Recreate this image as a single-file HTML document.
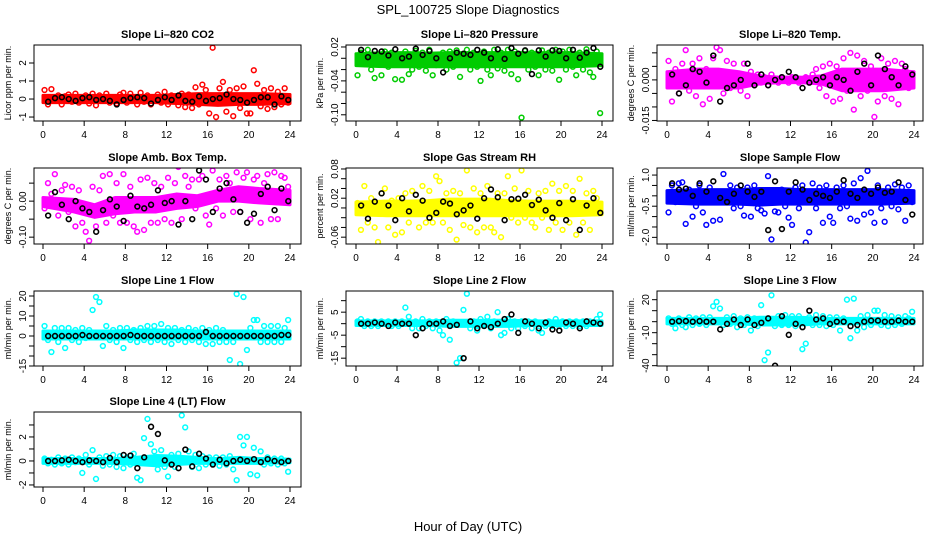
<!DOCTYPE html>
<html><head><meta charset="utf-8"><style>
html,body{margin:0;padding:0;background:#fff;}
svg{display:block;font-family:"Liberation Sans",sans-serif;}
</style></head><body>
<svg id="chart" width="936" height="540" viewBox="0 0 936 540" xmlns="http://www.w3.org/2000/svg">
<text x="468" y="14" text-anchor="middle" font-size="13">SPL_100725  Slope Diagnostics</text>
<text x="468" y="531" text-anchor="middle" font-size="13">Hour of Day (UTC)</text>
</svg>
<script>
const xTicks = [0,4,8,12,16,20,24];
const co2Color = [0.5,-0.3,0.55,-0.1,0.2,-0.3,0.15,0.25,-0.15,0.3,-0.2,0.1,0.2,-0.25,0.3,-0.35,0.2,-0.1,0.3,-0.2,0.1,-0.25,0.25,0.35,-0.2,0.3,0.1,-0.3,0.35,-0.15,0.2,-0.3,0.1,0.25,-0.2,0.4,-0.3,0.2,0.1,-0.35,0.3,-0.45,0.25,-0.5,0.65,-0.3,0.8,0.5,-0.8,2.85,-1.0,0.6,0.95,-0.7,0.5,-0.95,0.6,-0.5,0.7,-0.8,-0.8,1.6,0.85,-0.4,0.5,-0.55,0.6,-0.45,0.4,-0.3,0.6,-0.2];
const co2Black = [-0.15,0.05,0.1,0,-0.1,0.05,0.1,-0.05,0,-0.1,-0.3,-0.05,0.05,0.1,0.05,-0.25,-0.05,0.1,-0.05,0.2,-0.1,-0.15,0.15,-0.1,0,0.05,0.25,0,-0.05,-0.2,-0.05,0.1,0.1,-0.3,0.15,-0.05];
const co2BandHi = [0.2,0.2,0.2,0.2,0.2,0.2,0.25,0.3,0.3,0.3,0.3,0.25];
const co2BandLo = [-0.2,-0.2,-0.2,-0.2,-0.2,-0.2,-0.25,-0.3,-0.35,-0.3,-0.3,-0.25];

const presColor = [-0.03,0.01,-0.01,0.015,-0.02,-0.035,0.005,-0.03,0.012,-0.015,0.01,-0.037,0.005,-0.038,0.012,-0.028,-0.02,0.013,-0.015,0.01,-0.022,0.015,-0.03,-0.012,-0.118,0.01,-0.02,0.012,-0.015,0.014,-0.033,-0.01,0.015,-0.02,0.01,-0.015,-0.04,0.012,-0.02,-0.03,0.015,-0.018,0.01,-0.022,0.015,-0.028,0.012,-0.037,-0.105,0.013,-0.02,0.01,-0.015,-0.03,0.014,-0.02,0.01,-0.022,0.015,-0.038,0.012,-0.02,0.015,-0.015,-0.03,0.01,-0.02,0.016,-0.025,-0.033,0.012,-0.097];
const presBlack = [0.015,0.002,0.013,0.012,0.005,0.016,0.0,0.003,0.017,0.006,0.013,0.0,-0.025,0.0,0.01,0.008,0.006,0.015,0.01,0.0,0.016,-0.001,0.018,0.008,0.014,-0.028,0.014,0.003,0.014,0.013,0.0,0.015,0.001,0.01,0.018,-0.015];
const presBandHi = [0.008,0.01,0.01,0.009,0.01,0.01,0.01,0.01,0.01,0.01,0.01,0.008];
const presBandLo = [-0.013,-0.015,-0.015,-0.015,-0.015,-0.015,-0.015,-0.015,-0.015,-0.015,-0.015,-0.013];

const ltColor = [0.007,-0.008,0.004,-0.005,0.006,0.011,-0.004,0.006,-0.006,0.008,-0.009,0.004,-0.007,0.008,0.012,0.011,-0.005,0.007,-0.003,0.006,0.002,-0.004,0.006,-0.006,0.003,-0.002,0.002,-0.001,0.001,-0.002,0.002,0.0,-0.001,0.001,0.0,-0.001,0.001,0.0,-0.001,0.0,0.001,-0.001,0.002,0.004,-0.003,0.005,-0.006,0.006,-0.008,0.005,-0.007,0.008,-0.004,0.01,-0.011,0.009,-0.006,0.007,-0.004,0.005,-0.0137,-0.008,0.008,-0.006,0.006,-0.007,0.007,-0.009,0.006,0.004,-0.003,0.002];
const ltBlack = [0.002,-0.005,-0.002,0.004,0.003,-0.001,0.009,-0.008,-0.003,-0.002,0.0,0.006,-0.002,0.002,-0.002,0.0,0.001,0.003,0.001,-0.003,-0.001,0.0,0.001,-0.002,0.001,0.0,-0.004,0.003,0.006,-0.002,0.009,0.004,0.001,-0.002,0.005,0.002];
const ltBandHi = [0.003,0.004,0.004,0.003,0.0015,0.001,0.001,0.0015,0.004,0.004,0.004,0.003];
const ltBandLo = [-0.003,-0.003,-0.003,-0.003,-0.0015,-0.001,-0.001,-0.0015,-0.004,-0.004,-0.004,-0.003];

const abColor = [-0.02,0.05,0.02,0.075,-0.04,0.03,0.045,-0.03,0.04,-0.07,0.03,-0.06,-0.085,-0.11,0.04,-0.07,0.03,0.07,-0.06,0.075,-0.04,0.05,-0.06,0.075,-0.06,0.04,-0.07,-0.085,0.06,-0.08,0.065,-0.06,0.05,-0.06,0.04,-0.05,0.065,-0.06,0.05,0.095,-0.05,0.07,0.04,0.06,-0.02,0.06,0.07,-0.04,-0.065,0.085,-0.02,0.06,-0.04,0.07,0.05,-0.03,0.08,-0.03,0.065,0.08,-0.05,0.06,0.07,-0.06,0.05,0.075,-0.05,0.08,-0.05,0.07,0.065,0.04];
const abBlack = [-0.04,0.025,-0.01,-0.05,0.0,-0.02,-0.03,-0.085,-0.025,0.005,-0.015,-0.055,0.015,-0.015,-0.02,-0.01,0.03,-0.005,0.0,-0.065,0.0,-0.05,0.085,0.06,-0.03,0.035,0.05,0.005,-0.03,-0.06,-0.035,0.02,0.04,-0.025,0.035,0.0];
const abBandHi = [0.01,0.005,-0.01,0.01,0.01,0.01,0.02,0.015,0.03,0.04,0.035,0.03];
const abBandLo = [-0.015,-0.03,-0.045,-0.035,-0.03,-0.03,-0.02,-0.015,0.0,0.0,-0.005,-0.01];

const rhColor = [0.01,-0.045,0.045,-0.03,0.02,-0.04,-0.07,0.03,0.04,-0.04,0.015,-0.055,0.02,-0.05,0.03,-0.03,0.035,0.01,-0.04,0.045,-0.03,0.035,-0.03,0.065,0.055,-0.03,0.03,-0.045,0.035,-0.065,0.03,-0.035,0.077,-0.04,0.04,-0.05,0.03,-0.04,0.045,-0.04,-0.05,0.03,-0.06,0.03,0.065,-0.02,0.04,-0.03,0.077,-0.02,0.035,-0.03,-0.04,0.03,-0.02,0.035,-0.045,0.05,-0.03,0.035,-0.045,0.045,-0.03,0.035,-0.055,0.06,-0.03,0.03,-0.045,0.035,0.02,-0.01];
const rhBlack = [0.005,-0.022,0.013,0.03,0.005,-0.025,0.02,-0.007,0.027,0.015,-0.02,-0.01,0.013,0.009,-0.013,-0.005,0.005,-0.022,0.02,0.038,0.022,-0.025,0.018,0.019,0.027,0.006,0.017,-0.005,-0.02,0.01,-0.025,0.018,-0.045,0.005,0.02,-0.01];
const rhBandHi = [0.012,0.014,0.014,0.015,0.018,0.018,0.018,0.015,0.014,0.014,0.014,0.012];
const rhBandLo = [-0.014,-0.016,-0.016,-0.016,-0.016,-0.016,-0.016,-0.016,-0.016,-0.016,-0.016,-0.014];

const sfColor = [-0.8,0.5,-0.3,0.6,0.65,-1.35,0.3,-1.0,-0.5,0.5,-0.8,-1.4,0.4,-1.2,-0.3,-1.15,1.05,-0.3,0.5,-0.6,0.4,-0.5,-0.95,0.4,-1.0,0.5,-0.6,-0.7,-0.85,0.95,-2.1,-0.75,-0.8,0.3,-0.5,-1.05,-1.4,0.4,-0.6,0.5,-2.25,-1.75,0.6,-0.6,0.4,-1.3,0.5,-1.0,-1.3,0.4,-0.6,0.5,-0.5,-1.1,0.6,-1.2,0.85,-0.9,1.2,-0.8,-1.3,0.5,-0.6,-1.25,0.4,-0.5,0.55,-0.65,0.4,-1.2,0.5,-0.3];
const sfBlack = [0.6,0.3,0.35,0.0,0.6,0.2,0.7,-0.1,-0.3,0.1,0.5,0.2,-0.05,0.2,-1.65,0.7,-1.6,0.2,0.65,0.3,-0.2,0.1,0.0,-0.1,0.2,0.75,0.1,-0.1,0.3,0.1,0.4,0.15,0.2,0.65,-0.2,-0.9];
const sfBandHi = [0.25,0.3,0.3,0.3,0.35,0.35,0.3,0.3,0.3,0.3,0.3,0.25];
const sfBandLo = [-0.35,-0.4,-0.4,-0.4,-0.45,-0.4,-0.4,-0.4,-0.4,-0.4,-0.4,-0.35];

const l1Color = [5,-2,-8,4,-3,4,-6,4,-2,3,-3,4,-1,3,13,19.5,17,-5,5,-2,3,-3,4,-6,4,-2,3,-3,4,-2,5,-3,5,-2,6,-3,4,-4,4,-2,3,-3,4,-2,3,-3,4,-4,3,-4,4,-3,3,-3,-12,-3,21,-14,19.5,-7,4,8,8,-3,5,-3,5,-3,5,-3,4,8];
const l1Black = [0,0,0,0,0,0.5,0,0,0,0,0,0,0.5,0,0,0,0,0,0,0,0,0,0,2,0,0,0,0,0,0,0,0,0,0,0.5,0.5];
const l1BandHi = [2.5,2.5,2.5,2.5,3,3,3,2.5,2.5,2.5,2.5,2.5];
const l1BandLo = [-1.5,-1.5,-1.5,-1.5,-1.5,-1.5,-1.5,-1.5,-1.5,-1.5,-1.5,-1.5];

const l2Color = [1,2,-1,1,-1,1,-1,1,0,1,-1,1,-1,1,7,3,-2,1,-2,2,-1,1,-2,1,-3,-5,2,-7,1,-17,-15,6,13,-2,1,-3,2,-1,3,-2,1,5,-5,-4,2,-2,1,-2,1,-1,1,-2,1,-3,-4,-1,1,-1,2,-1,1,-1,1,-1,1,-1,1,-1,1,0,2,4];
const l2Black = [0,0,0.5,0,-1,0.5,0,0,-5,-2,0,0,1,-1,-0.5,-15,1,-2,-1,-1.5,0,2,4,-4,1,0,-2,0.5,-2.5,-3,0.5,0,-2,1,0.5,0];
const l2BandHi = [1.2,1.2,1.2,1.2,1.5,1.5,1.5,1.5,1.2,1.2,1.2,1.2];
const l2BandLo = [-0.8,-0.8,-0.8,-0.8,-1.2,-1.2,-1.2,-1.2,-0.8,-0.8,-0.8,-0.8];

const l3Color = [3,-2,-6,3,-3,-5,4,-3,3,-2,4,-3,4,14,18,12,-3,4,-2,5,-5,3,-3,4,-8,3,-4,15,-35,-28,24,-4,5,-3,6,-3,5,-4,5,-25,-20,4,-3,6,-3,5,-4,4,-3,4,-8,3,20,-15,21,-8,5,-5,6,-3,10,10,-3,6,-4,5,-3,4,-2,5,3,9];
const l3Black = [0,0.5,0.5,0,0.5,0,0,-7,-2,2,-3,2,-3,-1,3,-40,5,-12,-2,-5,10,2,3,-2,0,0,-4,-3,0,1,1,0,0,1,0,0];
const l3BandHi = [3,3,3,3,4,4,4,3,3,3,3,3];
const l3BandLo = [-2,-2,-2,-2,-3,-3,-3,-2,-2,-2,-2,-2];

const l4Color = [0.2,-0.2,0.1,-0.3,0.3,-0.2,0.2,-0.3,0.3,-0.1,0.2,-1.0,0.5,-0.3,0.9,-1.5,0.3,-0.4,0.4,-0.3,0.5,-0.5,0.4,-0.6,0.3,-0.3,0.6,-1.4,-1.6,1.9,3.5,1.4,0.8,-0.7,0.9,-0.5,-1.3,0.5,-0.5,0.6,3.8,2.8,0.8,-0.5,0.5,-0.6,0.4,-0.3,0.3,-0.2,0.3,-0.4,0.3,-0.3,0.4,-0.7,-1.6,2.0,1.3,2.0,-1.1,1.1,-1.2,0.8,-0.3,0.3,-0.2,0.2,-0.3,0.2,-0.2,-0.9];
const l4Black = [0,0,0.05,0.1,0,-0.1,0.05,0,-0.1,0.25,-0.1,0.5,0.45,-0.6,0.3,2.85,2.25,0.05,-0.3,-0.6,0.95,-0.45,0.6,0.2,-0.3,0.1,-0.2,0.0,0.1,0.0,0.15,-0.1,0.15,0.0,-0.1,0.0];
const l4BandHi = [0.2,0.2,0.2,0.2,0.3,0.45,0.4,0.3,0.2,0.3,0.2,0.15];
const l4BandLo = [-0.2,-0.2,-0.2,-0.2,-0.3,-0.4,-0.3,-0.2,-0.2,-0.2,-0.2,-0.15];

const panels = [
 {name:'co2',title:'Slope Li\u2013820 CO2',ylab:'Licor ppm per min.',col:0,row:0,ylim:[-1.22,3.0],ticks:[-1,0,1,2],labels:['-1','0','1','2'],color:'#ff0000',c:co2Color,b:co2Black,hi:co2BandHi,lo:co2BandLo},
 {name:'pressure',title:'Slope Li\u2013820 Pressure',ylab:'kPa per min.',col:1,row:0,ylim:[-0.111,0.0235],ticks:[0.02,0,-0.02,-0.04,-0.06,-0.08,-0.10],labels:['0.02','','','-0.04','','','-0.10'],color:'#00cc00',c:presColor,b:presBlack,hi:presBandHi,lo:presBandLo},
 {name:'li820-temp',title:'Slope Li\u2013820 Temp.',ylab:'degrees C per min.',col:2,row:0,ylim:[-0.0152,0.0129],ticks:[0.01,0.005,0,-0.005,-0.01,-0.015],labels:['','','0.000','','','-0.015'],color:'#ff00ff',c:ltColor,b:ltBlack,hi:ltBandHi,lo:ltBandLo},
 {name:'amb-box-temp',title:'Slope Amb. Box Temp.',ylab:'degrees C per min.',col:0,row:1,ylim:[-0.119,0.092],ticks:[0.05,0,-0.05,-0.10],labels:['','0.00','','-0.10'],color:'#ff00ff',c:abColor,b:abBlack,hi:abBandHi,lo:abBandLo},
 {name:'gas-rh',title:'Slope Gas Stream RH',ylab:'percent per min.',col:1,row:1,ylim:[-0.074,0.082],ticks:[0.08,0.06,0.04,0.02,0,-0.02,-0.04,-0.06],labels:['0.08','','','0.02','','','','-0.06'],color:'#ffff00',c:rhColor,b:rhBlack,hi:rhBandHi,lo:rhBandLo},
 {name:'sample-flow',title:'Slope Sample Flow',ylab:'ml/min per min.',col:2,row:1,ylim:[-2.32,1.34],ticks:[1,0.5,0,-0.5,-1,-1.5,-2],labels:['1.0','','','-0.5','','','-2.0'],color:'#0000ff',c:sfColor,b:sfBlack,hi:sfBandHi,lo:sfBandLo},
 {name:'line1-flow',title:'Slope Line 1 Flow',ylab:'ml/min per min.',col:0,row:2,ylim:[-15,22.5],ticks:[20,15,10,5,0,-5,-10,-15],labels:['20','','10','','0','','','-15'],color:'#00ffff',c:l1Color,b:l1Black,hi:l1BandHi,lo:l1BandLo},
 {name:'line2-flow',title:'Slope Line 2 Flow',ylab:'ml/min per min.',col:1,row:2,ylim:[-18.4,14.2],ticks:[10,5,0,-5,-10,-15],labels:['','5','','-5','','-15'],color:'#00ffff',c:l2Color,b:l2Black,hi:l2BandHi,lo:l2BandLo},
 {name:'line3-flow',title:'Slope Line 3 Flow',ylab:'ml/min per min.',col:2,row:2,ylim:[-40.3,27.9],ticks:[20,10,0,-10,-20,-30,-40],labels:['20','','','-10','','','-40'],color:'#00ffff',c:l3Color,b:l3Black,hi:l3BandHi,lo:l3BandLo},
 {name:'line4-flow',title:'Slope Line 4 (LT) Flow',ylab:'ml/min per min.',col:0,row:3,ylim:[-2.17,4.08],ticks:[3,2,1,0,-1,-2],labels:['','2','','0','','-2'],color:'#00ffff',c:l4Color,b:l4Black,hi:l4BandHi,lo:l4BandLo}
];
const colBox = [[34,301,43,290],[346,613,356,602],[657,923,667,914]];
const rowBox = [[45,121],[168,244],[291,366],[412,487]];
const NS = 'http://www.w3.org/2000/svg';
const svg = document.getElementById('chart');
function mk(tag, attrs, parent){const e=document.createElementNS(NS,tag);for(const k in attrs)e.setAttribute(k,attrs[k]);(parent||svg).appendChild(e);return e;}

panels.forEach(p=>{
  const [bl,br,x0,x24]=colBox[p.col]; const [bt,bb]=rowBox[p.row];
  const xs=h=>x0+(x24-x0)*h/24;
  const ys=v=>bb-(v-p.ylim[0])/(p.ylim[1]-p.ylim[0])*(bb-bt);
  const g=mk('g',{});
  
  
  const clipId='clip-'+p.name;
  const cp=mk('clipPath',{id:clipId},g); mk('rect',{x:bl,y:bt,width:br-bl,height:bb-bt},cp);
  const pg=mk('g',{'clip-path':'url(#'+clipId+')'},g);
  let pts=[];
  p.hi.forEach((v,i)=>pts.push([xs(i===0?0:(i===p.hi.length-1?24:i*2+1)),ys(v)]));
  for(let i=p.lo.length-1;i>=0;i--)pts.push([xs(i===0?0:(i===p.lo.length-1?24:i*2+1)),ys(p.lo[i])]);
  const band=mk('polygon',{points:pts.map(q=>q.join(',')).join(' '),fill:p.color,stroke:p.color,'stroke-width':3,'stroke-linejoin':'round'},pg);
  
  
  p.c.forEach((v,i)=>{
    const c=mk('circle',{cx:xs(i/3+0.15),cy:ys(v),r:2.4,fill:'none',stroke:p.color,'stroke-width':1.5},pg);
    
    
  });
  p.b.forEach((v,i)=>{
    const c=mk('circle',{cx:xs(i*2/3+0.5),cy:ys(v),r:2.4,fill:'none',stroke:'#000','stroke-width':1.6},pg);
    
    
  });
  const box=mk('rect',{x:bl,y:bt,width:br-bl,height:bb-bt,fill:'none',stroke:'#000','stroke-width':1},g);
  
  
  mk('line',{x1:xs(0),x2:xs(24),y1:bb,y2:bb,stroke:'#000'},g);
  xTicks.forEach(t=>{
    mk('line',{x1:xs(t),x2:xs(t),y1:bb,y2:bb+5,stroke:'#000'},g);
    const tx=mk('text',{x:xs(t),y:bb+17,'text-anchor':'middle','font-size':10},g); tx.textContent=t;
    
    
  });
  mk('line',{x1:bl,x2:bl,y1:ys(p.ticks[0]),y2:ys(p.ticks[p.ticks.length-1]),stroke:'#000'},g);
  p.ticks.forEach((t,i)=>{
    mk('line',{x1:bl-5,x2:bl,y1:ys(t),y2:ys(t),stroke:'#000'},g);
    if(p.labels[i]){
      const y=ys(t),x=bl-8;
      const tx=mk('text',{x:x,y:y,'text-anchor':'middle','font-size':10,transform:'rotate(-90 '+x+' '+y+')'},g);
      tx.textContent=p.labels[i];
      
      
    }
  });
  const yx=bl-23, yy=(bt+bb)/2;
  const yl=mk('text',{x:yx,y:yy,'text-anchor':'middle','font-size':9,transform:'rotate(-90 '+yx+' '+yy+')'},g);
  yl.textContent=p.ylab;
  
  
  const tt=mk('text',{x:(bl+br)/2,y:bt-7,'text-anchor':'middle','font-size':11,'font-weight':'bold'},g);
  tt.textContent=p.title;
  
  
});
</script>
</body></html>
